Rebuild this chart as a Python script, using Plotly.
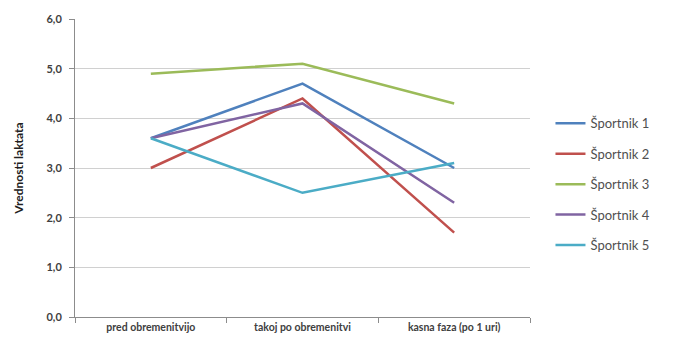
import plotly.graph_objects as go

# Lactate values per athlete at three measurement points
faze = ["pred obremenitvijo", "takoj po obremenitvi", "kasna faza (po 1 uri)"]
sportniki = ["Športnik 1", "Športnik 2", "Športnik 3", "Športnik 4", "Športnik 5"]
sportnik_1 = [3.6, 4.7, 3.0]
sportnik_2 = [3.0, 4.4, 1.7]
sportnik_3 = [4.9, 5.1, 4.3]
sportnik_4 = [3.6, 4.3, 2.3]
sportnik_5 = [3.6, 2.5, 3.1]
y_ticks = [0, 1, 2, 3, 4, 5, 6]
y_tick_labels = ["0,0", "1,0", "2,0", "3,0", "4,0", "5,0", "6,0"]

barve = ["#4F81BD", "#C0504D", "#9BBB59", "#8064A2", "#4BACC6"]
serije = [sportnik_1, sportnik_2, sportnik_3, sportnik_4, sportnik_5]

fig = go.Figure()
for i, (ime, vrednosti) in enumerate(zip(sportniki, serije)):
    fig.add_trace(go.Scatter(
        x=faze, y=vrednosti, mode="lines", name=ime,
        legendgroup=f"g{i}",
        line=dict(color=barve[i], width=2.5),
    ))

text_color = "#404040"
fig.update_layout(
    width=674, height=350,
    margin=dict(l=75, r=144, t=16, b=33),
    paper_bgcolor="white", plot_bgcolor="white",
    font=dict(family="Lato, Open Sans, sans-serif", color=text_color, size=10),
    showlegend=True,
    legend=dict(
        x=1.045, y=0.70, xanchor="left", yanchor="top",
        font=dict(size=13, color="#505050"),
        tracegroupgap=10.5, itemwidth=30,
        bgcolor="rgba(0,0,0,0)",
    ),
    xaxis=dict(
        type="category", range=[-0.5, 2.5],
        showgrid=False, showline=True, linecolor="#8c8c8c", linewidth=1,
        ticks="outside", tickson="boundaries", ticklen=5, tickcolor="#8c8c8c",
        tickfont=dict(size=10.5, color=text_color, weight="bold"),
        fixedrange=True,
    ),
    yaxis=dict(
        range=[0, 6], tickvals=y_ticks, ticktext=y_tick_labels,
        showgrid=True, gridcolor="#d0d0d0", gridwidth=1,
        showline=True, linecolor="#8c8c8c", linewidth=1,
        ticks="outside", ticklen=5, tickcolor="#8c8c8c",
        ticklabelstandoff=5,
        tickfont=dict(size=11, color=text_color, weight="bold"),
        zeroline=False,
        title=dict(text="Vrednosti laktata", font=dict(size=12, color="#202020", weight="bold"), standoff=20),
    ),
)

fig.write_html("out.html")
